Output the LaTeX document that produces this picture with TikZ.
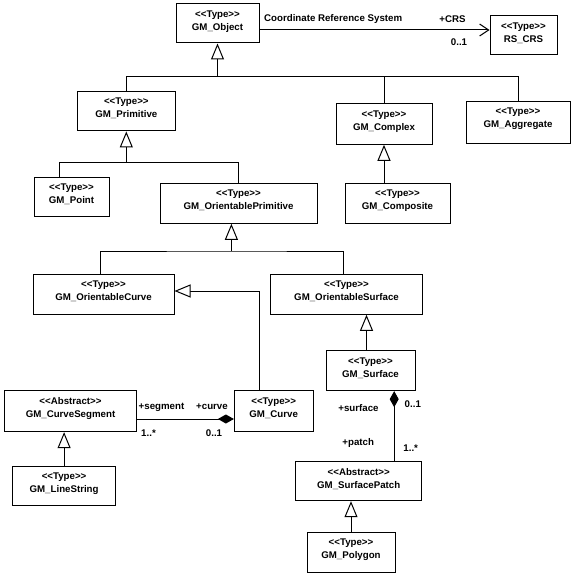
\documentclass[tikz,border=0pt]{standalone}
\usepackage{fontspec}
\newfontfamily\umlfont{Liberation Sans}
\usetikzlibrary{arrows.meta,positioning}

\begin{document}
\begin{tikzpicture}[x=1pt, y=-1pt,
    every node/.style={font=\umlfont\bfseries\fontsize{9.7}{13}\selectfont},
    cls/.style={draw, line width=1pt, fill=white},
    ctxt/.style={align=center, inner sep=0pt},
    lbl/.style={inner sep=0pt},
    gen/.style={line width=1pt, -{Triangle[length=16pt, width=13pt, fill=white]}},
    comp/.style={line width=1pt, {Diamond[length=16pt, width=9pt]}-},
    assoc/.style={line width=1pt, -{Straight Barb[length=9pt, width=12pt]}}]
            \useasboundingbox (0,0) rectangle (576,578);

            % Classes
            \node[cls, minimum width=83pt, minimum height=39pt] (obj) at (217.5,23.5) {};
            \node[ctxt, below=6.8pt of obj.north] (obj-t) {<<Type>>\\GM\_Object};
            \node[cls, minimum width=67pt, minimum height=39pt] (crs) at (523.5,35.5) {};
            \node[ctxt, below=6.8pt of crs.north] (crs-t) {<<Type>>\\RS\_CRS};
            \node[cls, minimum width=97.5pt, minimum height=39.3pt] (prim) at (126.3,111.3) {};
            \node[ctxt, below=6.8pt of prim.north] (prim-t) {<<Type>>\\GM\_Primitive};
            \node[cls, minimum width=96pt, minimum height=41pt] (cplx) at (384,123.8) {};
            \node[ctxt, below=7.8pt of cplx.north] (cplx-t) {<<Type>>\\GM\_Complex};
            \node[cls, minimum width=104pt, minimum height=42pt] (aggr) at (518,122.8) {};
            \node[ctxt, below=6.3pt of aggr.north] (aggr-t) {<<Type>>\\GM\_Aggregate};
            \node[cls, minimum width=75pt, minimum height=39.4pt] (point) at (71.5,197) {};
            \node[ctxt, below=6.8pt of point.north] (point-t) {<<Type>>\\GM\_Point};
            \node[cls, minimum width=157pt, minimum height=40pt] (oprim) at (238.5,203.3) {};
            \node[ctxt, below=6.8pt of oprim.north] (oprim-t) {<<Type>>\\GM\_OrientablePrimitive};
            \node[cls, minimum width=105pt, minimum height=40pt] (comp) at (397.5,203.3) {};
            \node[ctxt, below=6.8pt of comp.north] (comp-t) {<<Type>>\\GM\_Composite};
            \node[cls, minimum width=141pt, minimum height=40pt] (ocurve) at (103.5,294.3) {};
            \node[ctxt, below=6.8pt of ocurve.north] (ocurve-t) {<<Type>>\\GM\_OrientableCurve};
            \node[cls, minimum width=152pt, minimum height=40pt] (osurf) at (346.5,294.3) {};
            \node[ctxt, below=6.8pt of osurf.north] (osurf-t) {<<Type>>\\GM\_OrientableSurface};
            \node[cls, minimum width=89pt, minimum height=39.7pt] (surf) at (370.5,370.8) {};
            \node[ctxt, below=6.8pt of surf.north] (surf-t) {<<Type>>\\GM\_Surface};
            \node[cls, minimum width=132pt, minimum height=40.7pt] (cseg) at (70.5,411.3) {};
            \node[ctxt, below=6.8pt of cseg.north] (cseg-t) {<<Abstract>>\\GM\_CurveSegment};
            \node[cls, minimum width=78.6pt, minimum height=40.7pt] (curve) at (273.7,411.3) {};
            \node[ctxt, below=6.8pt of curve.north] (curve-t) {<<Type>>\\GM\_Curve};
            \node[cls, minimum width=103pt, minimum height=39.3pt] (lstr) at (64.1,486.3) {};
            \node[ctxt, below=6.8pt of lstr.north] (lstr-t) {<<Type>>\\GM\_LineString};
            \node[cls, minimum width=126pt, minimum height=39pt] (patch) at (358.7,481.2) {};
            \node[ctxt, below=6.8pt of patch.north] (patch-t) {<<Abstract>>\\GM\_SurfacePatch};
            \node[cls, minimum width=88pt, minimum height=40pt] (poly) at (351,552.3) {};
            \node[ctxt, below=6.8pt of poly.north] (poly-t) {<<Type>>\\GM\_Polygon};

            % Generalisations
            \coordinate (j1) at (obj.south |- 0,76);
            \draw[gen] (j1) -- (obj.south);
            \draw[line width=1pt] (prim.north) |- (aggr.north |- j1) -- (aggr.north);
            \draw[line width=1pt] (cplx.north) -- (cplx.north |- j1);

            \coordinate (j2) at (prim.south |- 0,162.3);
            \draw[gen] (j2) -- (prim.south);
            \draw[line width=1pt] ([xshift=-12.5pt]point.north) |- (j2) -| (oprim.north);

            \draw[gen] (comp.north -| cplx.south) -- (cplx.south);

            \coordinate (j3) at (231.4,251);
            \draw[gen] (j3) -- (j3 |- oprim.south);
            \draw[line width=1pt] ([xshift=-3.5pt]ocurve.north) |- (j3) -| ([xshift=-3.5pt]osurf.north);

            \coordinate (s1) at ([xshift=-4pt]surf.north);
            \draw[gen] (s1) -- (s1 |- osurf.south);

            \coordinate (c1) at ([xshift=-14.3pt]curve.north);
            \draw[gen] (c1) |- ([yshift=3.3pt]ocurve.east);

            \draw[gen] (lstr.north) -- (lstr.north |- cseg.south);
            \draw[gen] (poly.north) -- (poly.north |- patch.south);

            % Compositions
            \coordinate (c2) at ([yshift=-7.7pt]curve.west);
            \draw[comp] (c2) -- (c2 -| cseg.east);
            \coordinate (s2) at ([xshift=23.7pt]surf.south);
            \draw[comp] (s2) -- (s2 |- patch.north);

            % Association
            \coordinate (o1) at ([yshift=-6.5pt]obj.east);
            \draw[assoc] (o1) -- (o1 -| crs.west);

            % Role names and multiplicities
            \node[lbl, anchor=west] (l-crs) at (264,19) {Coordinate Reference System};
            \node[lbl] (l-crsrole) at (452.5,19) {+CRS};
            \node[lbl] (l-crsmult) at (459,42) {0..1};
            \node[lbl] (l-seg) at (161.5,407.7) {+segment};
            \node[lbl] (l-curve) at (212,407) {+curve};
            \node[lbl] (l-segmult) at (148.5,432.7) {1..*};
            \node[lbl] (l-curvemult) at (214,432.7) {0..1};
            \node[lbl] (l-surf) at (358.5,408.3) {+surface};
            \node[lbl] (l-surfmult) at (412.8,404.3) {0..1};
            \node[lbl] (l-patch) at (358.2,442.7) {+patch};
            \node[lbl] (l-patchmult) at (410.7,448.3) {1..*};
        \end{tikzpicture}
\end{document}
